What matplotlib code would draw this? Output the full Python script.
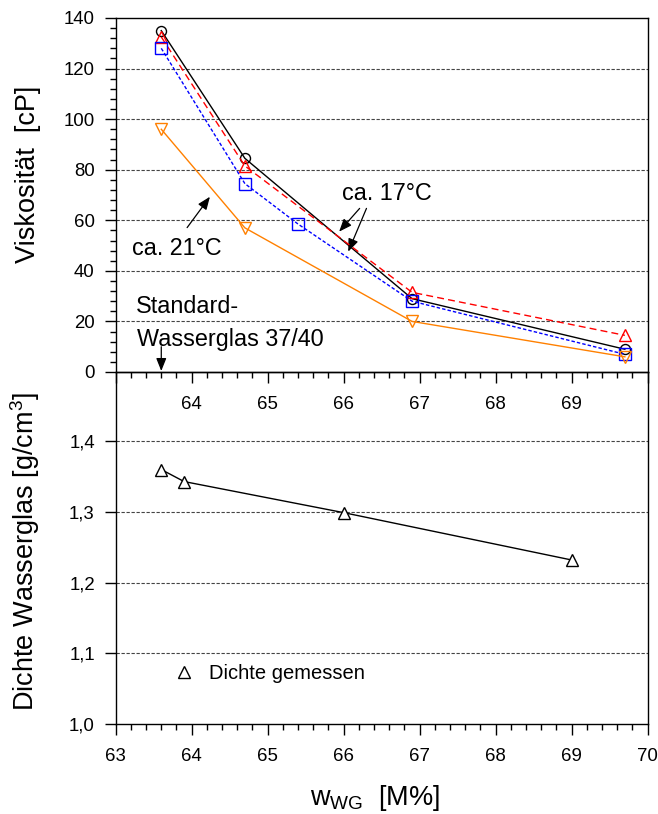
import matplotlib
matplotlib.use('Agg')
import matplotlib.pyplot as plt
from matplotlib.ticker import MultipleLocator, FixedLocator, FixedFormatter
from matplotlib.lines import Line2D

plt.rcParams['font.family'] = ['Liberation Sans', 'DejaVu Sans']
plt.rcParams['mathtext.fontset'] = 'custom'
plt.rcParams['mathtext.rm'] = 'Liberation Sans'
plt.rcParams['mathtext.it'] = 'Liberation Sans:italic'

# ---------------- data ----------------
x_visc = [63.6, 64.7, 66.9, 69.7]
visc_black = [135, 84.5, 29, 9]
visc_red = [132.5, 81.5, 31.5, 14.5]
x_blue = [63.6, 64.7, 65.4, 66.9, 69.7]
visc_blue = [128, 74.5, 58.5, 28, 7]
visc_orange = [96, 57, 20, 6]

x_dichte = [63.6, 63.9, 66.0, 69.0]
dichte = [1.36, 1.343, 1.299, 1.232]

x_major = [63, 64, 65, 66, 67, 68, 69, 70]
x_labels_bottom = ['63', '64', '65', '66', '67', '68', '69', '70']
x_labels_top = ['', '64', '65', '66', '67', '68', '69', '']
visc_ticks = [0, 20, 40, 60, 80, 100, 120, 140]
dichte_ticks = [1.0, 1.1, 1.2, 1.3, 1.4]
dichte_labels = ['1,0', '1,1', '1,2', '1,3', '1,4']

# ---------------- figure ----------------
fig = plt.figure(figsize=(6.58, 8.14), dpi=100)
ax1 = fig.add_axes([0.1758, 0.5430, 0.8085, 0.4349])
ax2 = fig.add_axes([0.1758, 0.1106, 0.8085, 0.4324])
for ax in (ax1, ax2):
    ax.patch.set_visible(False)
    for s in ax.spines.values():
        s.set_linewidth(1.0)

grid_kw = dict(color='#444444', linestyle=(0, (3, 1.5)), linewidth=0.8)
tick_fs = 13.4

# ---- top: viscosity ----
ax1.plot(x_visc, visc_black, color='black', lw=1.0, marker='o', ms=7.2,
         mfc='none', mec='black', mew=1.0, zorder=3)
ax1.plot(x_visc, visc_red, color='#ff0000', lw=1.0, ls=(0, (5, 3)),
         marker='^', ms=8.5, mfc='none', mec='#ff0000', mew=1.0, zorder=4)
ax1.plot(x_blue, visc_blue, color='#0000ff', lw=1.0, ls=(0, (2.5, 1.5)),
         marker='s', ms=8.8, mfc='none', mec='#0000ff', mew=1.0, zorder=5)
ax1.plot(x_visc, visc_orange, color='#ff8000', lw=1.0,
         marker='v', ms=8.5, mfc='none', mec='#ff8000', mew=1.0, zorder=6)

ax1.set_xlim(63, 70)
ax1.set_ylim(0, 140)
ax1.xaxis.set_major_locator(FixedLocator(x_major))
ax1.xaxis.set_major_formatter(FixedFormatter(x_labels_top))
ax1.xaxis.set_minor_locator(MultipleLocator(0.2))
ax1.yaxis.set_major_locator(FixedLocator(visc_ticks))
ax1.yaxis.set_minor_locator(MultipleLocator(4))
ax1.tick_params(axis='both', which='major', direction='out', length=8, width=1,
                labelsize=tick_fs)
ax1.tick_params(axis='both', which='minor', direction='out', length=4.5, width=1)
ax1.tick_params(axis='x', which='major', pad=9)
ax1.tick_params(axis='y', which='major', pad=7)
for v in visc_ticks[1:-1]:
    ax1.axhline(v, zorder=1, **grid_kw)

ax1.set_ylabel('Viskosität  [cP]', fontsize=19.5)
ax1.yaxis.set_label_coords(-0.141, 0.559)

txt_fs = 16.8
ax1.text(65.98, 68.0, 'ca. 17°C', fontsize=txt_fs, va='baseline', ha='left')
ax1.text(63.21, 46.3, 'ca. 21°C', fontsize=txt_fs, va='baseline', ha='left')
ax1.text(63.27, 23.2, 'Standard-', fontsize=txt_fs, va='baseline', ha='left')
ax1.text(63.28, 10.3, 'Wasserglas 37/40', fontsize=txt_fs, va='baseline', ha='left')

arrow_kw = dict(arrowstyle='-|>,head_length=0.55,head_width=0.22', color='black',
                lw=0.9, shrinkA=0, shrinkB=0, mutation_scale=14)
ax1.annotate('', xy=(64.24, 69.3), xytext=(63.94, 57.1), arrowprops=arrow_kw)
ax1.annotate('', xy=(65.94, 55.5), xytext=(66.21, 64.7), arrowprops=arrow_kw)
ax1.annotate('', xy=(66.06, 47.6), xytext=(66.30, 64.7), arrowprops=arrow_kw)
ax1.annotate('', xy=(63.6, 0.4), xytext=(63.6, 10.0), arrowprops=arrow_kw,
             annotation_clip=False)

# ---- bottom: density ----
ax2.plot(x_dichte, dichte, color='black', lw=1.0, marker='^', ms=8.5,
         mfc='white', mec='black', mew=1.0, zorder=3)
ax2.set_xlim(63, 70)
ax2.set_ylim(1.0, 1.498)
ax2.xaxis.set_major_locator(FixedLocator(x_major))
ax2.xaxis.set_major_formatter(FixedFormatter(x_labels_bottom))
ax2.xaxis.set_minor_locator(MultipleLocator(0.2))
ax2.yaxis.set_major_locator(FixedLocator(dichte_ticks))
ax2.yaxis.set_major_formatter(FixedFormatter(dichte_labels))
ax2.tick_params(axis='both', which='major', direction='out', length=8, width=1,
                labelsize=tick_fs)
ax2.tick_params(axis='x', which='minor', direction='out', length=4.5, width=1)
ax2.tick_params(axis='x', which='major', pad=9)
ax2.tick_params(axis='y', which='major', pad=7)
for v in dichte_ticks[1:]:
    ax2.axhline(v, zorder=1, **grid_kw)

ax2.set_ylabel('Dichte Wasserglas [g/cm$^3$]', fontsize=19.5)
ax2.yaxis.set_label_coords(-0.139, 0.49)
ax2.set_xlabel(r'$\mathrm{w}_{\mathrm{WG}}$  [M%]', fontsize=19.5)
ax2.xaxis.set_label_coords(0.487, -0.168)

proxy = Line2D([], [], ls='none', marker='^', ms=8.5, mfc='none', mec='black', mew=1.0)
ax2.legend([proxy], ['Dichte gemessen'], loc='center left',
           bbox_to_anchor=(0.110, 0.142), frameon=False, fontsize=14.5,
           handlelength=1.0, handletextpad=0.75, borderpad=0, borderaxespad=0)

fig.savefig('out.png', dpi=100)
